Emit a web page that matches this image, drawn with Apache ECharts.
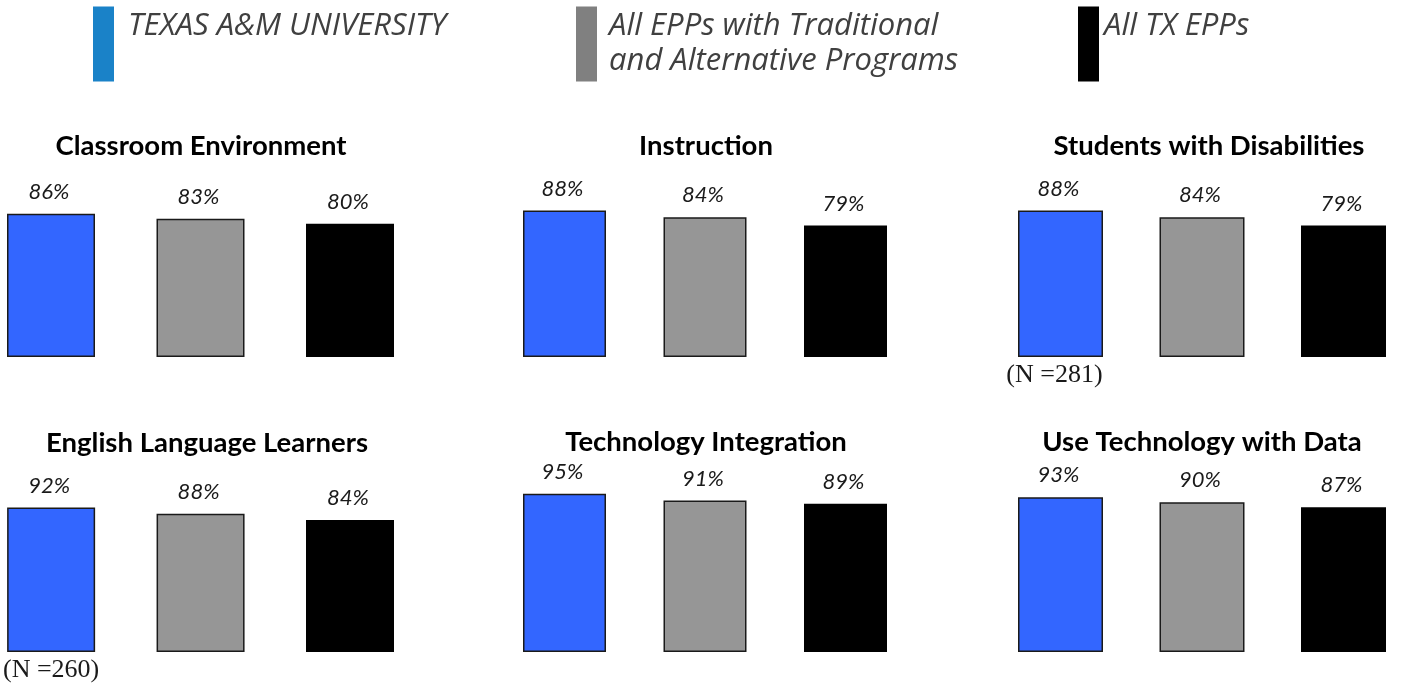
<!DOCTYPE html>
<html>
<head>
<meta charset="utf-8">
<title>Survey results</title>
<script src="https://cdn.jsdelivr.net/npm/echarts@6.0.0/dist/echarts.min.js"></script>
<style>
  html, body { margin: 0; padding: 0; background: #fff; }
  #main { width: 1404px; height: 683px; }
</style>
</head>
<body>
<div id="main"></div>
<script>
/* data */
var groups = ['TEXAS A&M UNIVERSITY', 'All EPPs with Traditional\nand Alternative Programs', 'All TX EPPs'];
var panelTitles = ['Classroom Environment', 'Instruction', 'Students with Disabilities',
                   'English Language Learners', 'Technology Integration', 'Use Technology with Data'];
var tamu      = [86, 88, 88, 92, 95, 93];
var tradAlt   = [83, 84, 84, 88, 91, 90];
var allTx     = [80, 79, 79, 84, 89, 87];
var nLabels   = ['', '', '(N =281)', '(N =260)', '', ''];

/* layout */
var cols = [
    {left: 51,    width: 299, bw: 88},
    {left: 564.5, width: 281, bw: 83},
    {left: 1060.5, width: 283, bw: 85}
];
var rowBottom = [357, 652];
var plotH = [166.5, 166.5, 166.5, 157, 166.5, 166.5];
var titleX = [201, 706, 1209, 207, 706, 1202];
var titleTop = [132, 132, 132, 429, 428, 428];
var nShift = [0, 0, 12, 0, 0, 0];

var barStyles = [
    {color: '#3366ff', borderColor: '#1a1a1a', borderWidth: 1.5},
    {color: '#969696', borderColor: '#1a1a1a', borderWidth: 1.5},
    {color: '#000000', borderWidth: 0}
];
var legendColors = ['#1a82c8', '#808080', '#000000'];
var legendLeft = [93, 576, 1078];
var legendPadLeft = [9, 7, 0];

var chart = echarts.init(document.getElementById('main'));

var grids = [], xAxes = [], yAxes = [], titles = [], series = [];
var values = [tamu, tradAlt, allTx];

for (var i = 0; i < 6; i++) {
    var c = cols[i % 3];
    var bottom = rowBottom[Math.floor(i / 3)];
    grids.push({left: c.left, width: c.width, top: bottom - plotH[i], height: plotH[i]});
    xAxes.push({
        type: 'category', gridIndex: i, data: ['TAMU', 'Trad/Alt', 'All TX'],
        boundaryGap: false,
        axisLine: {show: false}, axisTick: {show: false}, splitLine: {show: false},
        axisLabel: {
            interval: 0, margin: 5, padding: [0, nShift[i], 0, 0],
            fontFamily: 'Liberation Serif', fontSize: 26, color: '#1a1a1a',
            formatter: (function (n) {
                return function (v, idx) { return idx === 0 ? n : ''; };
            })(nLabels[i])
        }
    });
    yAxes.push({type: 'value', gridIndex: i, min: 0, max: 100, show: false});
    titles.push({
        text: panelTitles[i], left: titleX[i], top: titleTop[i], textAlign: 'center', padding: 0,
        textStyle: {fontFamily: 'Lato', fontWeight: 'bold', fontSize: 27.5, color: '#000'}
    });
    for (var g = 0; g < 3; g++) {
        var d = ['-', '-', '-'];
        d[g] = values[g][i];
        series.push({
            type: 'bar', name: groups[g], xAxisIndex: i, yAxisIndex: i,
            data: d, barWidth: c.bw, barGap: '-100%',
            itemStyle: barStyles[g],
            label: {
                show: true, position: 'top', distance: 11, offset: [-2, 0],
                formatter: '{c}%',
                fontFamily: 'Lato', fontStyle: 'italic', fontSize: 22, color: '#1a1a1a'
            },
            emphasis: {disabled: true}
        });
    }
}

var legends = groups.map(function (name, k) {
    return {
        data: [{name: name, icon: 'rect', itemStyle: {color: legendColors[k], borderWidth: 0}}],
        left: legendLeft[k], top: 5, padding: 0,
        itemWidth: 21, itemHeight: 75, selectedMode: false,
        formatter: function (n) { return n.indexOf('\n') < 0 ? n + '\n ' : n; },
        textStyle: {
            fontFamily: 'Open Sans', fontStyle: 'italic', fontSize: 31, color: '#404040',
            lineHeight: 35, padding: [8, 0, 0, legendPadLeft[k]]
        }
    };
});

chart.setOption({
    animation: false,
    title: titles,
    legend: legends,
    grid: grids,
    xAxis: xAxes,
    yAxis: yAxes,
    series: series
});
</script>
</body>
</html>
